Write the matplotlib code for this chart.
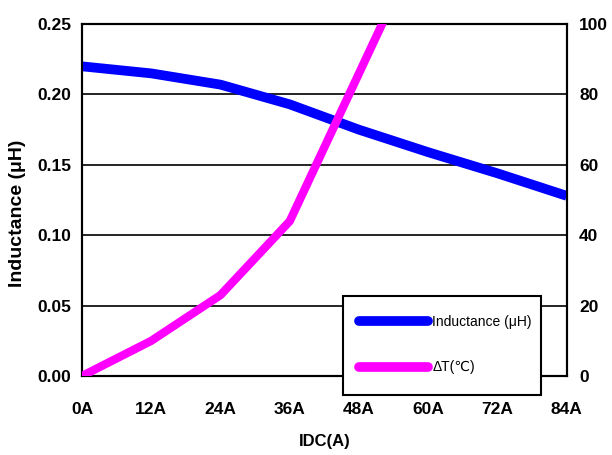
import matplotlib
matplotlib.use("Agg")
import matplotlib.pyplot as plt
from matplotlib.patches import Rectangle

x_vals = [0, 12, 24, 36, 48, 60, 72, 84]
x_labels = ["0A", "12A", "24A", "36A", "48A", "60A", "72A", "84A"]
inductance = [0.220, 0.215, 0.207, 0.193, 0.175, 0.159, 0.144, 0.128]
temp_x = [0, 12, 24, 36, 48, 60]
temp_rise = [0, 10, 23, 44, 86, 128]

plt.rcParams['font.family'] = ['Liberation Sans', 'DejaVu Sans']
fig = plt.figure(figsize=(6.12, 4.55), dpi=100)
ax = fig.add_axes([0.134, 0.1736, 0.792, 0.7734])
ax2 = ax.twinx()

ax.set_xlim(0, 84)
ax.set_ylim(0, 0.25)
ax2.set_ylim(0, 100)
ax.set_yticks([0, 0.05, 0.10, 0.15, 0.20, 0.25])
ax.set_yticklabels(["0.00", "0.05", "0.10", "0.15", "0.20", "0.25"])
ax2.set_yticks([0, 20, 40, 60, 80, 100])
ax.set_xticks(x_vals)
ax.set_xticklabels(x_labels)
ax.grid(axis='y', color='black', lw=1.2)
ax.set_axisbelow(True)

l1, = ax.plot(x_vals, inductance, color='#0000ff', lw=7, solid_capstyle='butt', label='Inductance (μH)', zorder=3)
l2, = ax2.plot(temp_x, temp_rise, color='#ff00ff', lw=6, solid_capstyle='butt', label='ΔT(℃)', zorder=3)

for a in (ax, ax2):
    for s in a.spines.values():
        s.set_color('black')
        s.set_linewidth(1.5)
    a.tick_params(length=0, labelsize=12.5)
    for t in a.get_xticklabels() + a.get_yticklabels():
        t.set_fontweight('bold')
ax.tick_params(axis='x', pad=19)
ax.tick_params(axis='y', pad=8)
ax2.tick_params(axis='y', pad=9)

ax.set_xlabel("IDC(A)", fontsize=12, fontweight='bold', labelpad=12)
ax.set_ylabel("Inductance (μH)", fontsize=14, fontweight='bold')
ax.yaxis.set_label_coords((26 - 82) / 485, (376 - 213) / 352)

# legend frame
rect = Rectangle(((343 - 82) / 485, (376 - 395) / 352), (541 - 343) / 485, (395 - 296) / 352,
                 transform=ax2.transAxes, facecolor='white', edgecolor='black', lw=1.5,
                 clip_on=False, zorder=9)
ax2.add_patch(rect)
leg = ax2.legend(handles=[l1, l2], loc='center left', bbox_to_anchor=((352 - 82) / 485, 0.0895),
                 frameon=False, fontsize=10, handlelength=5.0, borderpad=0,
                 labelspacing=2.3, handletextpad=0.3)
for h in leg.get_lines():
    h.set_linewidth(7)
    h.set_solid_capstyle('round')
leg.set_zorder(10)

fig.savefig("out.png", dpi=100)
